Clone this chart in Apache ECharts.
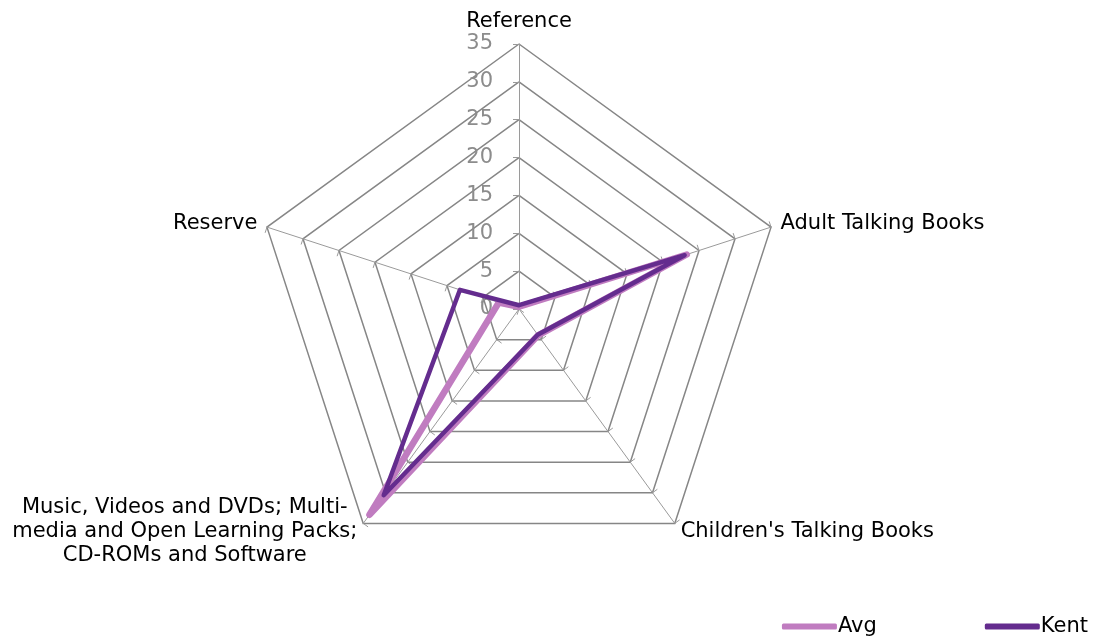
<!DOCTYPE html>
<html>
<head>
<meta charset="utf-8">
<style>
  html, body { margin: 0; padding: 0; background: #fff; }
  #chart { width: 1101px; height: 639px; }
</style>
<script src="https://cdn.jsdelivr.net/npm/echarts@6/dist/echarts.min.js"></script>
</head>
<body>
<div id="chart"></div>
<script>
// categories as read clockwise from the top, like the original chart
const categories = [
  'Reference',
  'Adult Talking Books',
  "Children's Talking Books",
  'Music, Videos and DVDs; Multi-\nmedia and Open Learning Packs;\nCD-ROMs and Software',
  'Reserve'
]
const avgValues = [0.3, 23.3, 4.3, 33.6, 2.8]
const kentValues = [0.5, 23.0, 4.2, 30.4, 8.2]
const axisMax = 35
const axisSplits = 7

const font = 'DejaVu Sans, Verdana, sans-serif'

// echarts lays radar axes out counter-clockwise, so flip the order (keeping the first on top)
const order = [0, 4, 3, 2, 1]
const pick = arr => order.map(i => arr[i])

const chart = echarts.init(document.getElementById('chart'))

chart.setOption({
  animation: false,
  legend: {
    right: 8,
    bottom: -3,
    itemWidth: 55,
    itemHeight: 6,
    itemGap: 108,
    icon: 'roundRect',
    textStyle: { fontFamily: font, fontSize: 21, color: '#000', padding: [0, 0, 0, -4] },
    data: ['Avg', 'Kent']
  },
  radar: {
    center: [519, 309],
    radius: 265,
    startAngle: 90,
    splitNumber: axisSplits,
    shape: 'polygon',
    nameGap: 10,
    axisName: {
      color: '#000',
      fontFamily: font,
      fontSize: 21,
      formatter: function (name) {
        return name.split('\n').map(function (l) { return '{c|' + l + '}' }).join('\n')
      },
      rich: {
        c: { align: 'center', fontFamily: font, fontSize: 21, color: '#000', lineHeight: 24 }
      }
    },
    indicator: pick(categories).map(function (name, i) {
      const ind = { name: name, min: 0, max: axisMax }
      if (i === 0) {
        ind.axisLabel = { show: true }
      }
      return ind
    }),
    axisLine: { lineStyle: { color: '#9a9a9a', width: 1 } },
    axisTick: { show: true, length: 6, lineStyle: { color: '#9a9a9a', width: 1 } },
    axisLabel: {
      show: false,
      color: '#8c8c8c',
      fontFamily: font,
      fontSize: 21,
      margin: 26
    },
    splitLine: { lineStyle: { color: '#868686', width: 1.5 } },
    splitArea: { show: false }
  },
  series: [{
    type: 'radar',
    symbol: 'none',
    data: [
      {
        name: 'Avg',
        value: pick(avgValues),
        lineStyle: { color: '#C07CC0', width: 6.5, join: 'round', cap: 'round' },
        itemStyle: { color: '#C07CC0' }
      },
      {
        name: 'Kent',
        value: pick(kentValues),
        lineStyle: { color: '#642C8E', width: 4.5, join: 'round', cap: 'round' },
        itemStyle: { color: '#642C8E' }
      }
    ]
  }]
})
</script>
</body>
</html>
